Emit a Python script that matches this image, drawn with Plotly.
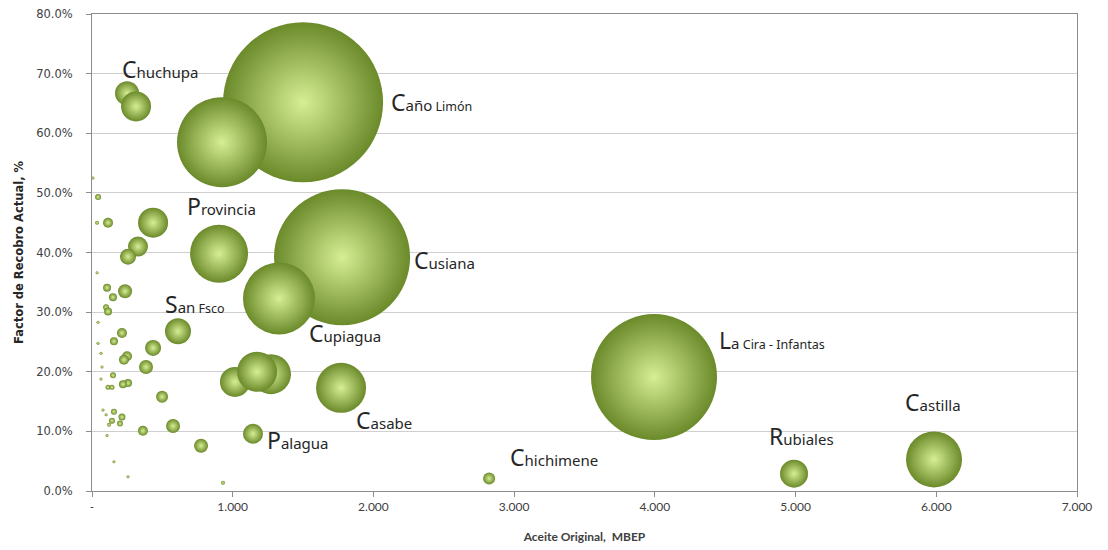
import plotly.graph_objects as go

# ---------------- data ----------------
campos = ["Caño Limón", "", "Chuchupa", "", "Cusiana", "Cupiagua", "Provincia",
          "La Cira - Infantas", "Castilla", "Rubiales", "Chichimene", "Casabe", "Palagua",
          "", "", "", "San Fsco",
          "", "", "", "", "", "", "", "", "", "", "", "", "", "", "", "", "", "", "", "",
          "", "", "", "", "", "", "", "", "", "", "", "", "", "", "", "", "", "", "", "",
          "", "", "", ""]
aceite_original = [1500, 924, 249, 313, 1777, 1329, 903,
                   3994, 5984, 4989, 2822, 1770, 1144,
                   1016, 1272, 1173, 611,
                   434, 327, 256, 114, 36, 43, 7, 36, 107, 149, 235, 100, 114, 43, 213, 156,
                   434, 249, 227, 384, 64, 43, 71, 149, 256, 220, 114, 142, 498, 64, 156, 213,
                   142, 199, 121, 100, 78, 362, 576, 775, 107, 156, 256, 931]
factor_recobro = [65.2, 58.5, 66.7, 64.5, 39.2, 32.3, 39.8,
                  19.1, 5.3, 2.9, 2.1, 17.3, 9.6,
                  18.3, 19.6, 20.0, 26.8,
                  45.0, 41.0, 39.3, 45.0, 45.0, 49.3, 52.5, 36.6, 34.1, 32.5, 33.5, 30.8, 30.1, 28.3, 26.5, 25.1,
                  24.0, 22.6, 22.0, 20.8, 23.1, 24.8, 20.8, 19.4, 18.1, 17.9, 17.4, 17.4, 15.8, 18.8, 13.3, 12.4,
                  11.8, 11.3, 11.1, 12.8, 13.6, 10.1, 10.9, 7.6, 9.3, 4.9, 2.4, 1.4]
tamano = [6400, 2025, 144, 225, 4624, 1296, 841,
          3969, 784, 196, 36, 625, 100,
          225, 400, 400, 169,
          225, 100, 64, 25, 4, 9, 2.25, 2.25, 16, 16, 49, 9, 16, 2.25, 25, 16,
          64, 25, 25, 49, 2.25, 2.25, 2.25, 9, 16, 16, 6.25, 6.25, 36, 2.25, 9, 12.25,
          9, 9, 4, 2.25, 2.25, 25, 49, 49, 2.25, 2.25, 2.25, 4]

x_tickvals = [0, 1000, 2000, 3000, 4000, 5000, 6000, 7000]
x_ticktext = ["-", "1.000", "2.000", "3.000", "4.000", "5.000", "6.000", "7.000"]
y_tickvals = [0, 10, 20, 30, 40, 50, 60, 70, 80]
y_ticktext = ["0.0%", "10.0%", "20.0%", "30.0%", "40.0%", "50.0%", "60.0%", "70.0%", "80.0%"]

# label offsets in pixels (style)
label_shift = {
    "Caño Limón": (86, 0),
    "Chuchupa": (-7, 24),
    "Cusiana": (70, -3),
    "Cupiagua": (28, -35),
    "Provincia": (-34, 48),
    "La Cira - Infantas": (63, 37),
    "Castilla": (-31, 57),
    "Rubiales": (-27, 38),
    "Chichimene": (19, 21),
    "Casabe": (13, -32),
    "Palagua": (12, -6),
    "San Fsco": (-15, 27),
}

BIG, MID, SMALL = 23, 15, 12.5


def fancy(name):
    words = name.split(" ")
    first = words[0]
    out = f'<span style="font-size:{BIG}px">{first[0]}</span><span style="font-size:{MID}px">{first[1:]}</span>'
    if len(words) > 1:
        out += f'<span style="font-size:{SMALL}px"> {" ".join(words[1:])}</span>'
    return out


fig = go.Figure()
fig.add_trace(go.Scatter(
    x=aceite_original, y=factor_recobro, mode="markers",
    marker=dict(size=tamano, sizemode="area", sizeref=0.5, sizemin=0,
                color="#6b8a2a",
                gradient=dict(type="radial", color="#d6ee94"),
                line=dict(width=0), opacity=1),
    hoverinfo="skip", showlegend=False,
))

annotations = []
for name, xv, yv in zip(campos, aceite_original, factor_recobro):
    if name in label_shift:
        dx, dy = label_shift[name]
        annotations.append(dict(
            x=xv, y=yv, xref="x", yref="y", text=fancy(name), showarrow=False,
            xanchor="left", yanchor="middle", xshift=dx, yshift=dy,
            font=dict(family="Noto Sans", size=MID, color="#262626"),
        ))

fig.update_layout(
    width=1108, height=550,
    margin=dict(l=92, r=31, t=14, b=59, autoexpand=False),
    paper_bgcolor="white", plot_bgcolor="white",
    annotations=annotations,
    xaxis=dict(
        range=[0, 7000], tickvals=x_tickvals, ticktext=x_ticktext,
        showgrid=False, zeroline=False, automargin=False,
        showline=True, linecolor="#8c8c8c", linewidth=1, mirror=True,
        ticks="outside", ticklen=5, tickcolor="#8c8c8c",
        tickfont=dict(family="Lato", size=12, color="#404040"),
        title=dict(text="<b>Aceite Original,  MBEP</b>", standoff=19,
                   font=dict(family="Lato", size=12, color="#404040")),
    ),
    yaxis=dict(
        range=[0, 80], tickvals=y_tickvals, ticktext=y_ticktext,
        showgrid=True, gridcolor="#cfcfcf", gridwidth=1, zeroline=False, automargin=False,
        showline=True, linecolor="#8c8c8c", linewidth=1, mirror=True,
        ticks="outside", ticklen=5, tickcolor="#8c8c8c", ticklabelstandoff=11,
        tickfont=dict(family="DejaVu Sans", size=11.5, color="#404040"),
        title=dict(text="<b>Factor de Recobro Actual, %</b>", standoff=10,
                   font=dict(family="DejaVu Sans", size=11.5, color="#262626")),
    ),
)

fig.write_html("out.html", config={"displayModeBar": False},
               post_script="document.body.style.margin='0px';")
